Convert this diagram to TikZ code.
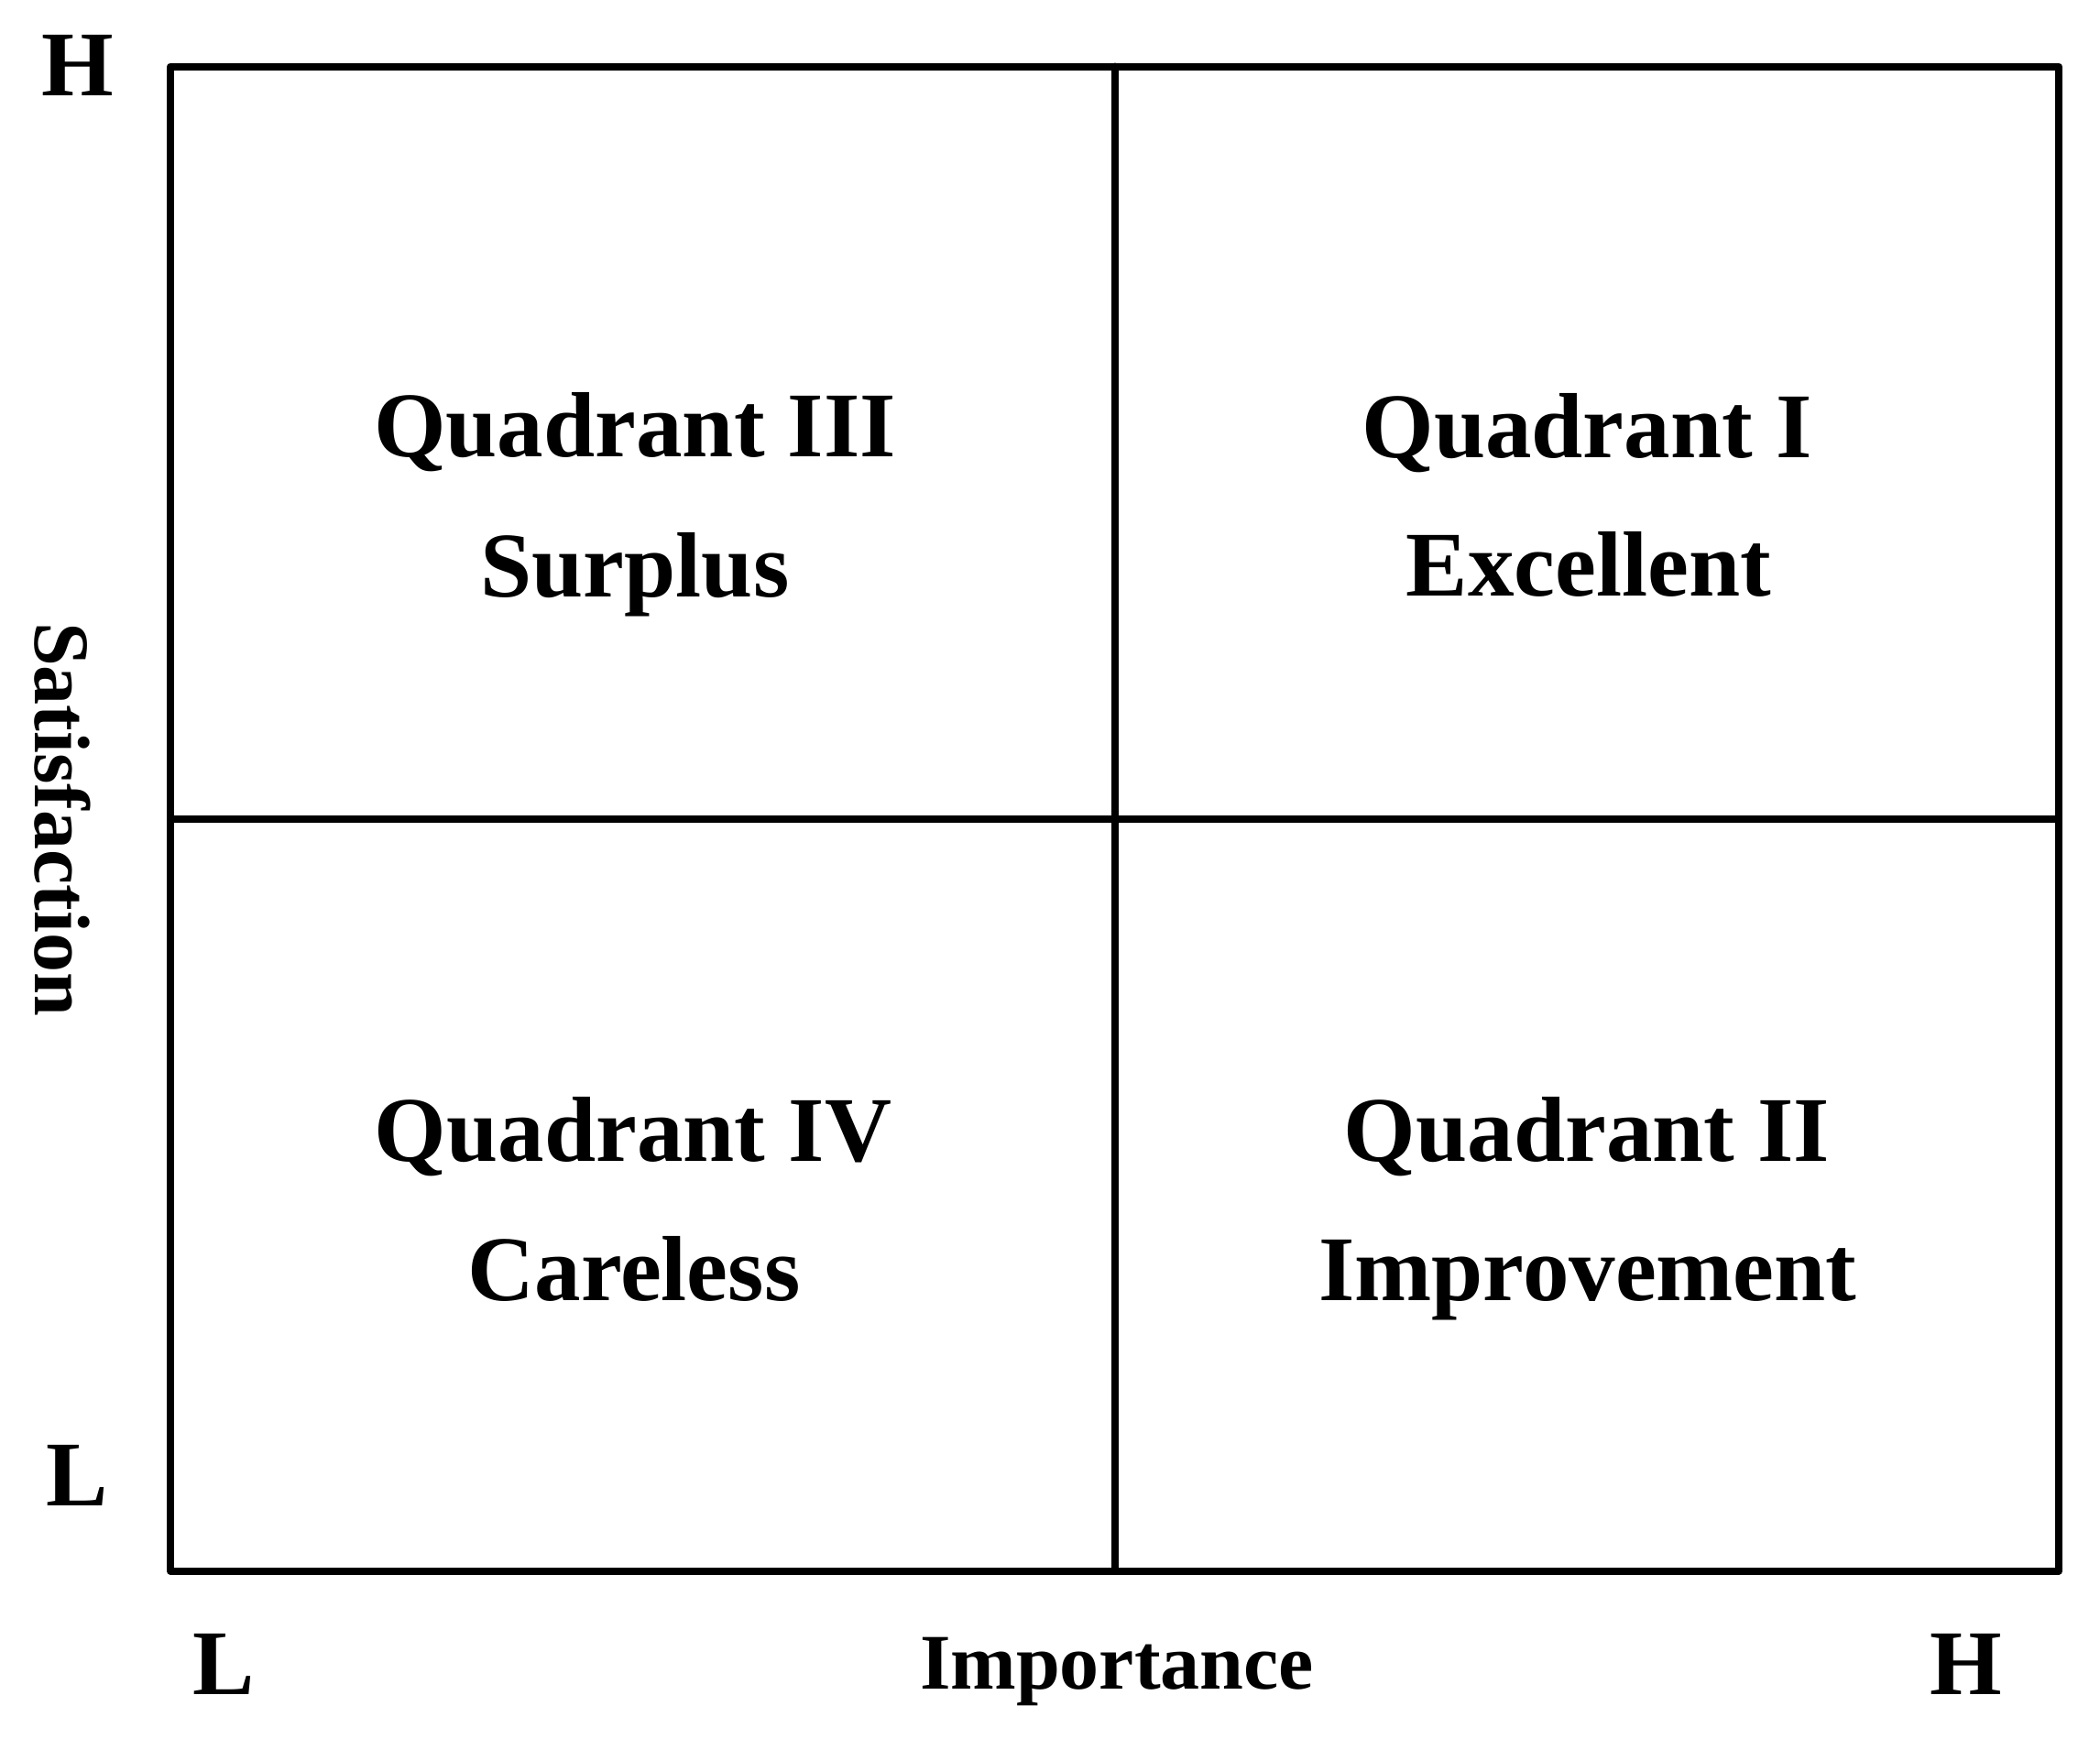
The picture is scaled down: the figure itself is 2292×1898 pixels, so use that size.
\documentclass[tikz,border=0pt]{standalone}
\usepackage{fontspec}
\setmainfont{Liberation Serif}
\tikzset{
  big/.style={inner sep=0pt, anchor=base, font=\bfseries\fontsize{101}{120}\selectfont},
  axislabel/.style={inner sep=0pt, anchor=base, font=\bfseries\fontsize{86}{100}\selectfont},
  frame/.style={line width=8pt, line join=round, line cap=round}
}
\begin{document}
\begin{tikzpicture}[x=1pt,y=-1pt]
\useasboundingbox (0,0) rectangle (2292,1898);
\coordinate (tl) at (186,72.5);
\coordinate (br) at (2247,1714.5);
\coordinate (mt) at (1217,72.5);
\coordinate (mb) at (1217,1714.5);
\coordinate (ml) at (186,893.5);
\coordinate (mr) at (2247,893.5);
\draw[frame] (tl) rectangle (br);
\draw[frame] (mt) -- (mb);
\draw[frame] (ml) -- (mr);
% quadrant labels
\node[big] (q3a) at (693,498) {Quadrant III};
\node[big] (q3b) at (693,651) {Surplus};
\node[big] (q1a) at (1732,499) {Quadrant I};
\node[big] (q1b) at (1734,650) {Excellent};
\node[big] (q4a) at (691,1267) {Quadrant IV};
\node[big] (q4b) at (692,1419) {Careless};
\node[big] (q2a) at (1732,1267) {Quadrant II};
\node[big] (q2b) at (1733,1419) {Improvement};
% axis ends
\node[big] (yh) at (85,104) {H};
\node[big] (yl) at (84,1643) {L};
\node[big] (xl) at (244,1849) {L};
\node[big] (xh) at (2146,1849) {H};
% axis titles
\node[axislabel] (xt) at (1219,1843) {Importance};
\node[axislabel, rotate=-90] (yt) at (38,894) {Satisfaction};
\end{tikzpicture}
\end{document}
